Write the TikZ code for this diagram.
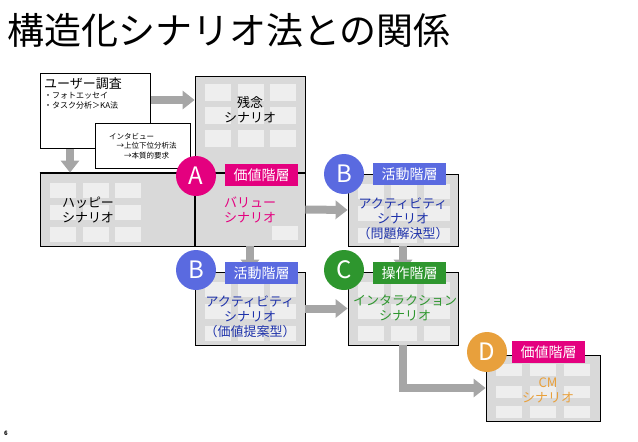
\documentclass[tikz,border=0pt]{standalone}
\usepackage{fontspec}
\setmainfont{Noto Sans CJK JP}
\usetikzlibrary{arrows.meta}
\definecolor{mymagenta}{RGB}{228, 0, 127}
\definecolor{myblue}{RGB}{90, 106, 224}
\definecolor{mydarkblue}{RGB}{30, 50, 170}
\definecolor{mygreen}{RGB}{46, 150, 46}
\definecolor{myorange}{RGB}{232, 160, 60}
\definecolor{mygray}{RGB}{217, 217, 217}
\definecolor{mytile}{RGB}{238, 238, 238}
\definecolor{myarrow}{RGB}{166, 166, 166}

\begin{document}
\begin{tikzpicture}[x=1pt, y=-1pt, font=\fontsize{13}{15}\selectfont]
                \tikzstyle{scn}=[rectangle, draw, fill=mygray, line width=0.8pt, inner sep=0pt]
                \tikzstyle{memo}=[rectangle, draw, fill=white, line width=0.8pt, inner sep=3pt, align=left, anchor=north west]
                \tikzstyle{tag}=[rectangle, minimum width=73pt, minimum height=22pt, inner sep=0pt, text=white, font=\fontsize{14}{16}\selectfont]
                \tikzstyle{badge}=[circle, minimum size=40pt, inner sep=0pt, text=white, font=\fontsize{24}{26}\selectfont]
                \tikzstyle{tile}=[fill=mytile]
                \tikzstyle{flow}=[-{Triangle[length=12pt,width=18pt]}, line width=8pt, myarrow]
                \useasboundingbox (0,0) rectangle (638,442);

                \node[anchor=west, inner sep=0pt, font=\fontsize{37}{40}\selectfont] (T) at (7,30) {構造化シナリオ法との関係};
                \node[font=\fontsize{6}{7}\selectfont\bfseries] (P) at (6,433) {6};

                % scenario boxes
                \node[scn, minimum width=110pt, minimum height=170pt] (Z) at (250,161) {};
                \node[scn, minimum width=155pt, minimum height=73pt] (H) at (117.5,209.5) {};
                \node[scn, minimum width=110pt, minimum height=73pt] (V) at (250,209.5) {};
                \node[scn, minimum width=110pt, minimum height=72pt] (B1) at (403,210) {};
                \node[scn, minimum width=110pt, minimum height=73pt] (B2) at (250,308.5) {};
                \node[scn, minimum width=110pt, minimum height=73pt] (C) at (403,308.5) {};
                \node[scn, minimum width=114pt, minimum height=66pt] (D) at (543,388) {};

                % tiles
                \foreach \x in {205,238,270} \foreach \y in {84,107,130}
                    \fill[tile] (\x,\y) rectangle ++(26,17);
                \foreach \x in {50,83,115} \foreach \y in {183,205,227}
                    \fill[tile] (\x,\y) rectangle ++(26,15);
                \fill[tile] (272,226) rectangle ++(26,14);
                \foreach \x in {358,391,424} \foreach \y in {184,206,228}
                    \fill[tile] (\x,\y) rectangle ++(26,15);
                \foreach \x in {205,238,270} \foreach \y in {282,304,326}
                    \fill[tile] (\x,\y) rectangle ++(26,15);
                \foreach \x in {358,391,424} \foreach \y in {282,304,326}
                    \fill[tile] (\x,\y) rectangle ++(26,15);
                \foreach \x in {496,530,564} \foreach \y in {364,386,406}
                    \fill[tile] (\x,\y) rectangle ++(26,12);
                \draw[line width=0.8pt] (H.north west) -- (V.north east);
                \draw[line width=0.8pt] (V.north west) -- (V.south west);

                % notes
                \node[memo, minimum width=110pt, minimum height=75pt] (U) at (40,73) {};
                \node[anchor=north west, inner sep=0pt, align=left, font=\fontsize{8}{10}\selectfont] (UT) at (44,77)
                    {{\fontsize{13}{15}\selectfont ユーザー調査}\\・フォトエッセイ\\・タスク分析＞KA法};
                \node[memo, minimum width=95pt, minimum height=45pt, font=\fontsize{7.5}{9.5}\selectfont] (I) at (95,123)
                    {インタビュー\\\quad →上位下位分析法\\\qquad →本質的要求};

                % flows
                \draw[flow] (U.east |- 0,100) -- (Z.west |- 0,100);
                \draw[flow] (U.south -| 70,0) -- (H.north -| 70,0);
                \draw[flow] (V.east) -- (B1.west);
                \draw[flow] (V.south) -- (B2.north);
                \draw[flow] (B1.south) -- (C.north);
                \draw[flow] (B2.east) -- (C.west);
                \draw[flow] (C.south) |- (D.west);

                % labels
                \node[text=black, align=center] (ZT) at (250,110) {残念\\シナリオ};
                \node[text=black, align=center] (HT) at (88,210) {ハッピー\\シナリオ};
                \node[text=mymagenta, align=center] (VT) at (250,210) {バリュー\\シナリオ};
                \node[text=mydarkblue, align=center] (B1T) at (403,219) {アクティビティ\\シナリオ\\（問題解決型）};
                \node[text=mydarkblue, align=center] (B2T) at (250,317) {アクティビティ\\シナリオ\\（価値提案型）};
                \node[text=mygreen, align=center] (CT) at (405,308) {インタラクション\\シナリオ};
                \node[text=myorange, align=center] (DT) at (548,390) {CM\\シナリオ};

                % layer tags
                \node[tag, fill=mymagenta] (LA) at (261.5,175) {価値階層};
                \node[tag, fill=myblue] (LB1) at (409.5,174) {活動階層};
                \node[tag, fill=myblue] (LB2) at (261.5,273) {活動階層};
                \node[tag, fill=mygreen] (LC) at (409.5,273) {操作階層};
                \node[tag, fill=mymagenta] (LD) at (548.5,352) {価値階層};
                \node[badge, fill=mymagenta] (A) at (196,176) {A};
                \node[badge, fill=myblue] (BA) at (344,174) {B};
                \node[badge, fill=myblue] (BB) at (196,270) {B};
                \node[badge, fill=mygreen] (CC) at (344,270) {C};
                \node[badge, fill=myorange] (DD) at (487,352) {D};
            \end{tikzpicture}
\end{document}
